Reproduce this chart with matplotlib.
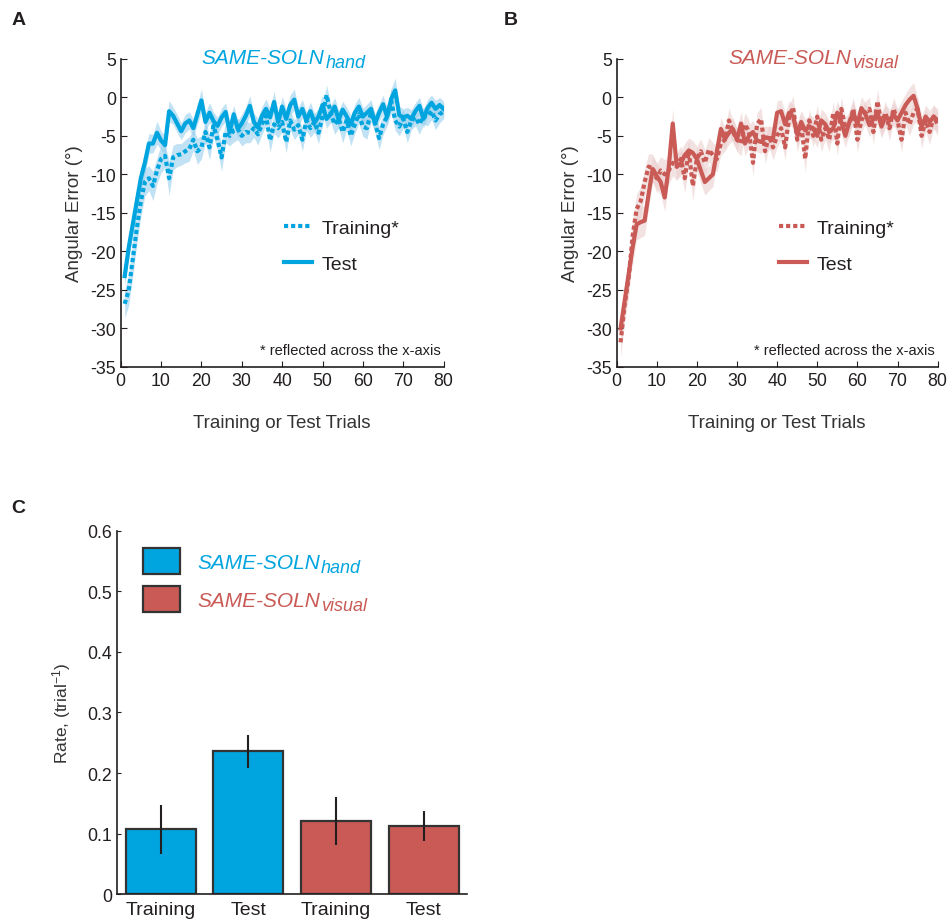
import matplotlib
matplotlib.use("Agg")
import matplotlib.pyplot as plt
from matplotlib.patches import Patch
import numpy as np

plt.rcParams['font.family'] = ['Liberation Sans', 'DejaVu Sans']
plt.rcParams['mathtext.fontset'] = 'custom'
plt.rcParams['mathtext.rm'] = 'Liberation Sans'
plt.rcParams['mathtext.it'] = 'Liberation Sans:italic'
plt.rcParams['axes.unicode_minus'] = False
plt.rcParams['text.color'] = '#231f20'
plt.rcParams['axes.labelcolor'] = '#333333'

# データ
trials = np.arange(1, 81)

hand_train = [-26.8, -25, -21, -17, -13.5, -11, -10.5, -11.5, -9.5, -8,
              -7.6, -10.5, -7.8, -7.5, -7.4, -7.0, -6.7, -5.5, -7.0, -6.5,
              -4.5, -6.5, -3.7, -5.5, -7.8, -4.5, -5.0, -4.3, -4.1, -5.0,
              -4.5, -4.6, -4.0, -4.8, -3.5, -2.4, -5.6, -3.5, -4.0, -3.2,
              -5.8, -3.0, -4.2, -3.6, -5.5, -3.0, -4.0, -3.2, -4.6, -2.5,
              0.3, -2.0, -3.5, -2.8, -4.5, -3.0, -5.0, -3.5, -2.2, -3.8,
              -4.0, -2.0, -3.3, -5.3, -3.5, -2.5, -0.4, -3.0, -3.8, -2.8,
              -4.5, -3.0, -2.6, -3.5, -2.4, -2.5, -1.8, -3.0, -2.2, -1.8]
hand_train_se = [1.8, 2.0, 2.2, 2.0, 2.0, 1.8, 1.6, 1.9, 1.7, 1.8,
                 1.5, 2.2, 1.6, 1.5, 1.4, 1.5, 1.6, 1.4, 1.7, 1.5,
                 1.4, 1.6, 1.5, 1.4, 1.8, 1.4, 1.3, 1.5, 1.4, 1.3,
                 1.4, 1.3, 1.2, 1.4, 1.3, 1.3, 1.5, 1.2, 1.3, 1.2,
                 1.4, 1.2, 1.3, 1.2, 1.5, 1.3, 1.2, 1.3, 1.4, 1.2,
                 1.3, 1.2, 1.3, 1.2, 1.4, 1.2, 1.3, 1.2, 1.2, 1.3,
                 1.4, 1.2, 1.2, 1.5, 1.3, 1.2, 1.6, 1.3, 1.2, 1.2,
                 1.4, 1.2, 1.1, 1.3, 1.1, 1.2, 1.1, 1.2, 1.1, 1.0]
hand_test = [-23.2, -19.5, -16.5, -13.5, -10.5, -8.5, -6.0, -6.0, -4.6, -5.6,
             -6.2, -1.8, -2.4, -3.4, -4.4, -3.4, -3.0, -4.0, -2.2, -0.4,
             -3.2, -2.0, -3.1, -3.7, -2.6, -1.9, -4.5, -2.2, -4.1, -3.4,
             -2.4, -1.1, -3.2, -3.9, -2.4, -1.5, -2.6, -0.6, -3.2, -1.2,
             -2.8, -1.0, -0.3, -2.5, -1.5, -3.0, -1.8, -3.3, -2.5, -1.0,
             -2.8, -2.2, -1.2, -2.9, -1.6, -2.5, -3.5, -2.0, -1.2, -2.5,
             -2.0, -1.5, -3.4, -2.0, -0.9, -2.5, -0.2, 0.9, -2.3, -2.6,
             -2.4, -2.8, -1.8, -1.1, -2.8, -1.4, -0.7, -1.5, -1.0, -1.5]
hand_test_se = [1.2, 1.4, 1.5, 1.6, 1.5, 1.4, 1.3, 1.2, 1.5, 1.2,
                1.3, 1.4, 1.1, 1.2, 1.1, 1.2, 1.1, 1.2, 1.3, 1.5,
                1.2, 1.3, 1.2, 1.1, 1.2, 1.2, 1.3, 1.2, 1.1, 1.2,
                1.2, 1.3, 1.1, 1.2, 1.2, 1.3, 1.2, 1.4, 1.2, 1.3,
                1.2, 1.3, 1.4, 1.2, 1.2, 1.1, 1.2, 1.2, 1.1, 1.3,
                1.2, 1.1, 1.2, 1.2, 1.1, 1.2, 1.2, 1.1, 1.2, 1.1,
                1.1, 1.2, 1.2, 1.1, 1.2, 1.1, 1.3, 1.6, 1.2, 1.1,
                1.1, 1.2, 1.1, 1.1, 1.2, 1.1, 1.0, 1.1, 1.0, 1.0]

vis_train = [-31.8, -27, -23.5, -18, -14.5, -13.5, -11, -9.0, -9.2, -10.5,
             -9.5, -10.0, -9.5, -8.5, -9.0, -8.0, -10.5, -7.0, -11.5, -8.0,
             -7.0, -8.5, -6.8, -7.5, -8.0, -6.0, -5.5, -3.0, -4.5, -5.5,
             -6.0, -3.5, -4.5, -8.5, -3.5, -2.8, -7.0, -5.0, -6.5, -5.0,
             -4.0, -6.5, -2.5, -1.3, -5.5, -3.5, -8.0, -3.0, -5.0, -2.5,
             -5.5, -4.0, -5.5, -2.0, -6.0, -1.5, -4.0, -3.5, -1.5, -5.5,
             -3.0, -2.0, -1.5, -4.5, -0.5, -3.5, -2.0, -4.0, -1.5, -3.0,
             -5.5, -2.0, -3.5, -2.0, -1.5, -5.0, -3.0, -4.5, -2.5, -3.5]
vis_train_se = [2.0, 2.2, 2.4, 2.2, 2.0, 1.9, 1.8, 1.7, 1.8, 1.9,
                1.8, 1.9, 1.8, 1.7, 1.8, 1.7, 1.9, 1.6, 1.9, 1.7,
                1.6, 1.7, 1.6, 1.6, 1.7, 1.5, 1.5, 1.6, 1.5, 1.5,
                1.6, 1.5, 1.5, 1.7, 1.5, 1.5, 1.6, 1.5, 1.6, 1.5,
                1.5, 1.6, 1.5, 1.5, 1.6, 1.5, 1.7, 1.5, 1.5, 1.5,
                1.6, 1.5, 1.6, 1.5, 1.6, 1.5, 1.5, 1.5, 1.5, 1.6,
                1.5, 1.5, 1.5, 1.6, 1.5, 1.5, 1.5, 1.6, 1.5, 1.5,
                1.6, 1.5, 1.5, 1.5, 1.5, 1.6, 1.5, 1.6, 1.5, 1.5]
vis_test = [-30, -26.5, -23, -19.5, -16.5, -16.2, -16, -12.5, -9.3, -10.2,
            -11.0, -13.0, -9.1, -3.4, -9.0, -8.6, -7.5, -6.9, -7.2, -8.0,
            -9.5, -11.0, -10.5, -10.0, -7.0, -4.1, -5.4, -4.6, -4.1, -5.5,
            -3.4, -6.0, -5.0, -4.5, -5.6, -5.8, -5.2, -5.3, -5.3, -2.0,
            -1.8, -3.5, -2.0, -2.5, -4.8, -3.2, -4.3, -3.8, -4.0, -5.0,
            -3.0, -3.5, -4.5, -4.0, -2.0, -3.2, -5.0, -3.2, -2.0, -3.5,
            -1.4, -2.2, -3.6, -2.8, -2.0, -3.8, -2.5, -3.0, -2.2, -3.0,
            -2.0, -1.0, -0.3, 0.2, -1.5, -3.9, -2.5, -3.2, -2.5, -3.0]
vis_test_se = [1.6, 1.8, 2.0, 2.0, 2.0, 2.0, 1.9, 1.8, 1.7, 1.7,
               1.7, 1.8, 1.7, 1.9, 1.7, 1.6, 1.6, 1.6, 1.6, 1.6,
               1.7, 1.7, 1.6, 1.6, 1.6, 1.5, 1.5, 1.5, 1.5, 1.5,
               1.5, 1.6, 1.5, 1.5, 1.5, 1.5, 1.5, 1.5, 1.5, 1.5,
               1.5, 1.5, 1.5, 1.5, 1.5, 1.5, 1.5, 1.5, 1.5, 1.5,
               1.5, 1.5, 1.5, 1.5, 1.5, 1.5, 1.5, 1.5, 1.5, 1.5,
               1.5, 1.5, 1.5, 1.5, 1.5, 1.5, 1.5, 1.5, 1.5, 1.5,
               1.5, 1.5, 1.6, 1.7, 1.5, 1.5, 1.5, 1.5, 1.5, 1.5]

# 棒グラフ
bar_labels = ['Training', 'Test', 'Training', 'Test']
bar_rates = [0.107, 0.236, 0.121, 0.113]
bar_err = [0.041, 0.027, 0.040, 0.025]

group_name = 'SAME-SOLN'
group_subs = ['hand', 'visual']

blue = '#00a5df'
red = '#c95a55'
blue_band = '#8fcbeb'
red_band = '#e9cccb'
dark = '#231f20'

fig = plt.figure(figsize=(9.5, 9.2), dpi=100)


def add_sub(ax, txt, sub, col, size):
    # 下付き文字（textの右下に付ける）
    ax.annotate(sub, xy=(1, 0), xycoords=txt, xytext=(0.5, -0.5),
                textcoords='offset points', color=col, fontsize=size,
                style='italic', ha='left', va='baseline', zorder=10)


def learning_panel(rect, train, train_se, test, test_se, col, band, sub, tx):
    ax = fig.add_axes(rect)
    train = np.array(train)
    test = np.array(test)
    ax.fill_between(trials, train - np.array(train_se), train + np.array(train_se),
                    color=band, alpha=0.55, lw=0)
    ax.fill_between(trials, test - np.array(test_se), test + np.array(test_se),
                    color=band, alpha=0.55, lw=0)
    ax.plot(trials, train, color=col, lw=3, ls=(0, (1, 0.7)), label='Training*')
    ax.plot(trials, test, color=col, lw=3, label='Test')
    ax.set_xlim(0, 80)
    ax.set_ylim(-35, 5)
    ax.set_xticks(np.arange(0, 81, 10))
    ax.set_yticks(np.arange(-35, 6, 5))
    for s in ['top', 'right']:
        ax.spines[s].set_visible(False)
    for s in ['left', 'bottom']:
        ax.spines[s].set_color(dark)
        ax.spines[s].set_linewidth(1.2)
    ax.tick_params(direction='in', length=4, labelsize=12.8, colors=dark)
    ax.set_xlabel('Training or Test Trials', fontsize=13.5, labelpad=18)
    ax.set_ylabel('Angular Error (°)', fontsize=13.5, labelpad=5)
    t = ax.text(tx, 1.005, group_name, transform=ax.transAxes, color=col, fontsize=15,
                style='italic', ha='left', va='center')
    add_sub(ax, t, sub, col, 13)
    ax.text(0.99, 0.055, '* reflected across the x-axis', transform=ax.transAxes,
            fontsize=10.5, ha='right', va='center', color=dark)
    ax.legend(loc='upper left', bbox_to_anchor=(0.505, 0.48), frameon=False,
              borderpad=0, borderaxespad=0, fontsize=14, handlelength=1.45,
              labelspacing=0.95, handletextpad=0.5)
    return ax


learning_panel([0.127, 0.600, 0.340, 0.335], hand_train, hand_train_se,
               hand_test, hand_test_se, blue, blue_band, group_subs[0], 0.251)
learning_panel([0.649, 0.600, 0.338, 0.335], vis_train, vis_train_se,
               vis_test, vis_test_se, red, red_band, group_subs[1], 0.349)

# パネルC
axc = fig.add_axes([0.123, 0.027, 0.369, 0.395])
xpos = np.arange(1, 5)
bar_cols = [blue, blue, red, red]
axc.bar(xpos, bar_rates, width=0.8, color=bar_cols, edgecolor='#333333', linewidth=1.6)
axc.errorbar(xpos, bar_rates, yerr=bar_err, fmt='none', ecolor=dark, elinewidth=1.5, capsize=0)
axc.set_xlim(0.5, 4.5)
axc.set_ylim(0, 0.6)
axc.set_xticks(xpos)
axc.set_xticklabels(bar_labels)
axc.set_yticks([0, 0.1, 0.2, 0.3, 0.4, 0.5, 0.6])
axc.set_yticklabels(['0', '0.1', '0.2', '0.3', '0.4', '0.5', '0.6'])
for s in ['top', 'right']:
    axc.spines[s].set_visible(False)
for s in ['left', 'bottom']:
    axc.spines[s].set_color(dark)
    axc.spines[s].set_linewidth(1.2)
axc.tick_params(axis='y', direction='in', length=3, labelsize=12.8, colors=dark)
axc.tick_params(axis='x', length=0, labelsize=14, colors=dark, pad=5)
axc.set_ylabel(r'Rate, (trial$^{\mathrm{-1}}$)', fontsize=12.5, labelpad=10)
handles = [Patch(facecolor=blue, edgecolor='#333333', linewidth=1.6),
           Patch(facecolor=red, edgecolor='#333333', linewidth=1.6)]
leg = axc.legend(handles, [group_name, group_name],
                 loc='upper left', bbox_to_anchor=(0.074, 0.952), frameon=False,
                 borderpad=0, borderaxespad=0,
                 handlelength=1.8, handleheight=1.5, labelspacing=0.6, handletextpad=0.8,
                 prop={'size': 15, 'style': 'italic'}, labelcolor=[blue, red])
for txt, sub, col in zip(leg.get_texts(), group_subs, [blue, red]):
    add_sub(axc, txt, sub, col, 13)

# パネル記号
fig.text(0.012, 0.978, 'A', fontsize=14, weight='bold', va='center')
fig.text(0.530, 0.978, 'B', fontsize=14, weight='bold', va='center')
fig.text(0.012, 0.447, 'C', fontsize=14, weight='bold', va='center')

fig.savefig('out.png', dpi=100)
